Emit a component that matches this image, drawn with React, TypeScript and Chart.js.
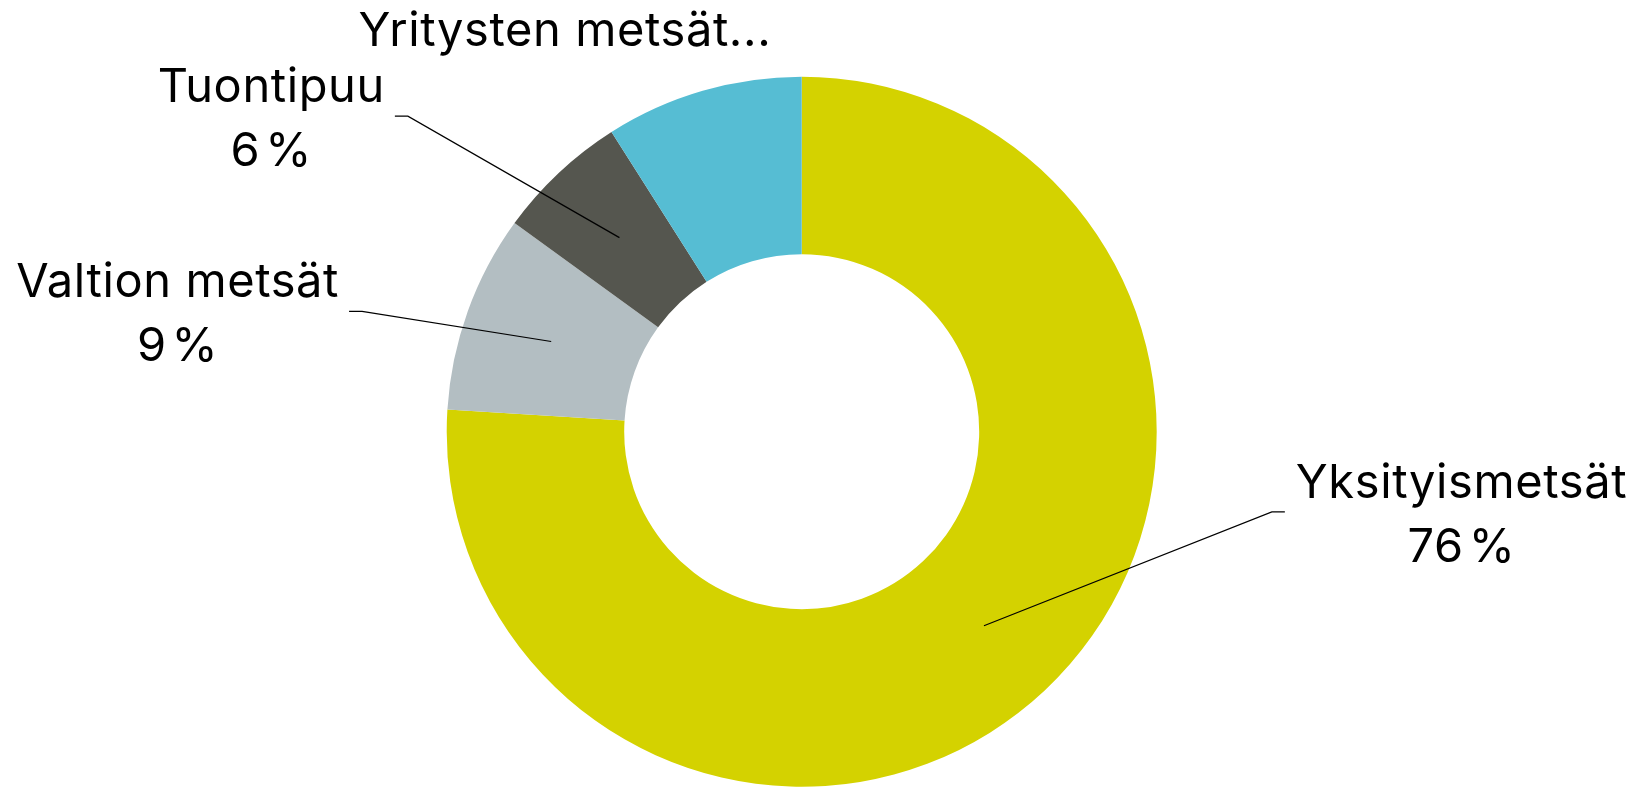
import React, { useEffect, useRef } from "react";
import { Chart, registerables } from "chart.js";

Chart.register(...registerables);

// ---- Data ----
const categories = ["Yksityismetsät", "Valtion metsät", "Tuontipuu", "Yritysten metsät"];
const shares = [76, 9, 6, 9];
const sliceColors = ["#d4d200", "#b3bec2", "#55564f", "#56bdd3"];
const labelTexts = ["Yksityismetsät", "Valtion metsät", "Tuontipuu", "Yritysten metsät..."];
const showValue = [true, true, true, false];

// ---- Label layout (relative to centre, in units of outer radius) ----
const labelAnchors = [
  { x: 1.361, y: 0.226, side: 1, connector: true },
  { x: -1.275, y: -0.339, side: -1, connector: true },
  { x: -1.146, y: -0.889, side: -1, connector: true },
  { x: -0.667, y: -1.047, side: 0, connector: false },
];

const FONT = "47px Inter, 'Noto Sans', sans-serif";

const outsideLabels = {
  id: "outsideLabels",
  afterDraw(chart: any) {
    const ctx = chart.ctx as any;
    const meta = chart.getDatasetMeta(0);
    const data = chart.data.datasets[0].data as number[];
    const total = data.reduce((a, b) => a + b, 0);
    ctx.save();
    ctx.font = FONT;
    if ("letterSpacing" in ctx) ctx.letterSpacing = "0.6px";
    ctx.fillStyle = "#000";
    ctx.strokeStyle = "#000";
    ctx.lineWidth = 1.2;
    meta.data.forEach((arc: any, i: number) => {
      const p = arc.getProps(["x", "y", "startAngle", "endAngle", "innerRadius", "outerRadius"], true);
      const R = p.outerRadius;
      const mid = (p.startAngle + p.endAngle) / 2;
      const rm = (p.outerRadius + p.innerRadius) / 2;
      const px = p.x + Math.cos(mid) * rm;
      const py = p.y + Math.sin(mid) * rm;
      const a = labelAnchors[i];
      const ax = p.x + a.x * R;
      const ay = p.y + a.y * R;
      if (a.connector) {
        ctx.beginPath();
        ctx.moveTo(px, py);
        ctx.lineTo(ax - a.side * 13, ay);
        ctx.lineTo(ax, ay);
        ctx.stroke();
      }
      const lines = [labelTexts[i]];
      if (showValue[i]) lines.push(Math.round((data[i] / total) * 100) + "\u200A%");
      const w = Math.max(...lines.map((l) => ctx.measureText(l).width));
      let cxText = ax;
      if (a.side === 1) cxText = ax + 11 + w / 2;
      else if (a.side === -1) cxText = ax - 10 - w / 2;
      ctx.textAlign = "center";
      ctx.textBaseline = "alphabetic";
      lines.forEach((l, k) => ctx.fillText(l, cxText, ay - 14 + k * 64));
    });
    ctx.restore();
  },
};

export default function App() {
  const ref = useRef<HTMLCanvasElement>(null);
  useEffect(() => {
    if (!ref.current) return;
    const chart = new Chart(ref.current, {
      type: "doughnut",
      data: {
        labels: categories,
        datasets: [
          {
            data: shares,
            backgroundColor: sliceColors,
            borderWidth: 0,
          },
        ],
      },
      options: {
        responsive: false,
        animation: false,
        devicePixelRatio: 1,
        cutout: "50%",
        layout: { padding: { left: 446.7, right: 475.3, top: 76.7, bottom: 3.3 } },
        plugins: {
          legend: { display: false },
          tooltip: { enabled: false },
        },
      },
      plugins: [outsideLabels],
    });
    return () => chart.destroy();
  }, []);
  return (
    <div style={{ position: "fixed", left: 0, top: 0, width: 1632, height: 790, background: "#fff" }}>
      <canvas ref={ref} width={1632} height={790} style={{ display: "block" }} />
    </div>
  );
}
